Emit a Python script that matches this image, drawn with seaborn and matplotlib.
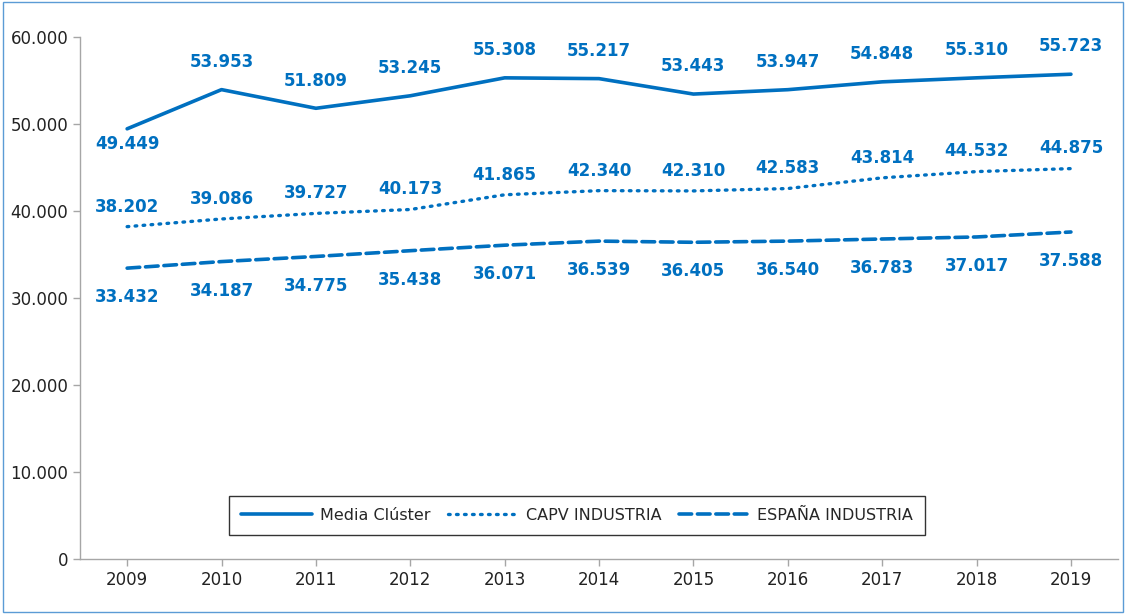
import matplotlib.pyplot as plt
import seaborn as sns
import pandas as pd

# datos del gráfico
anios = [2009, 2010, 2011, 2012, 2013, 2014, 2015, 2016, 2017, 2018, 2019]
media_cluster = [49449, 53953, 51809, 53245, 55308, 55217, 53443, 53947, 54848, 55310, 55723]
capv_industria = [38202, 39086, 39727, 40173, 41865, 42340, 42310, 42583, 43814, 44532, 44875]
espana_industria = [33432, 34187, 34775, 35438, 36071, 36539, 36405, 36540, 36783, 37017, 37588]

azul = '#0070C0'

sns.set_theme(style='white')
plt.rcParams['font.family'] = ['DejaVu Sans']

def fmt(v):
    return f'{v:,}'.replace(',', '.')

fig = plt.figure(figsize=(11.26, 6.14), dpi=100)
ax = fig.add_axes([0.071, 0.0896, 0.922, 0.8501])

df = pd.DataFrame({'anio': anios, 'media': media_cluster,
                   'capv': capv_industria, 'espana': espana_industria})

sns.lineplot(data=df, x='anio', y='media', ax=ax, color=azul, lw=2.6,
             label='Media Clúster', solid_capstyle='round')
sns.lineplot(data=df, x='anio', y='capv', ax=ax, color=azul, lw=2.4,
             label='CAPV INDUSTRIA', linestyle=(0, (0.5, 1.9)), dash_capstyle='round')
sns.lineplot(data=df, x='anio', y='espana', ax=ax, color=azul, lw=2.6,
             label='ESPAÑA INDUSTRIA', linestyle=(0, (3.5, 1.6)), dash_capstyle='round')

# etiquetas de datos
lab = dict(color=azul, fontsize=12, fontweight='bold', ha='center', va='center')
for i, a in enumerate(anios):
    off = -11 if i == 0 else 20
    ax.annotate(fmt(media_cluster[i]), (a, media_cluster[i]), xytext=(0, off),
                textcoords='offset points', **lab)
    ax.annotate(fmt(capv_industria[i]), (a, capv_industria[i]), xytext=(0, 14.5),
                textcoords='offset points', **lab)
    ax.annotate(fmt(espana_industria[i]), (a, espana_industria[i]), xytext=(0, -21),
                textcoords='offset points', **lab)

ax.set_xlim(2008.5, 2019.5)
ax.set_ylim(0, 60000)
ax.set_xticks(anios)
ax.set_xticklabels([str(a) for a in anios])
ax.set_yticks(range(0, 60001, 10000))
ax.set_yticklabels([fmt(v) for v in range(0, 60001, 10000)])
ax.set_xlabel('')
ax.set_ylabel('')
ax.tick_params(axis='both', labelsize=12, colors='#222222', length=5,
               width=1, direction='out', left=True, bottom=True)
ax.tick_params(axis='both', color='#a6a6a6')

for s in ['top', 'right']:
    ax.spines[s].set_visible(False)
for s in ['left', 'bottom']:
    ax.spines[s].set_color('#a6a6a6')
    ax.spines[s].set_linewidth(1)

leg = ax.legend(loc='center', bbox_to_anchor=(0.479, 0.084), ncol=3,
                frameon=True, fancybox=False, edgecolor='black', fontsize=11.5,
                handlelength=4.4, columnspacing=1.1, borderpad=0.75,
                borderaxespad=0, handletextpad=0.5)
leg.get_frame().set_linewidth(1)

# borde exterior
fig.patches.append(plt.Rectangle((0.003, 0.004), 0.994, 0.993, transform=fig.transFigure,
                                 fill=False, edgecolor='#5b9bd5', lw=1))

fig.savefig('out.png', dpi=100)
